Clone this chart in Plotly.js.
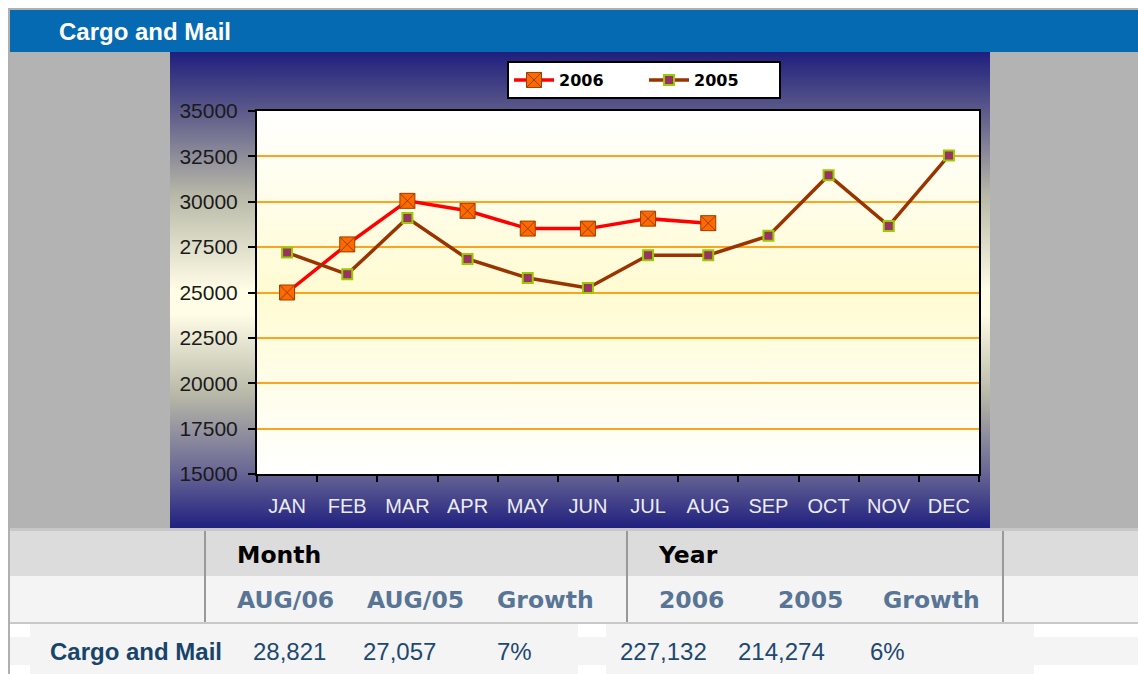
<!DOCTYPE html>
<html>
<head>
<meta charset="utf-8">
<script src="https://cdn.plot.ly/plotly-3.0.1.min.js"></script>
<style>
  html, body { margin: 0; padding: 0; background: #ffffff; width: 1138px; height: 674px; overflow: hidden; }
  .abs { position: absolute; }
  .hdr { font-family: "Liberation Sans", Arial, sans-serif; font-weight: bold; color: #ffffff; font-size: 24px; line-height: 42px; white-space: nowrap; }
  .th1 { font-family: "DejaVu Sans", Verdana, sans-serif; font-weight: bold; color: #000; font-size: 23.5px; line-height: 30px; white-space: nowrap; }
  .th2 { font-family: "DejaVu Sans", Verdana, sans-serif; font-weight: bold; color: #587595; font-size: 23.5px; line-height: 30px; white-space: nowrap; }
  .rowlab { font-family: "Liberation Sans", Arial, sans-serif; font-weight: bold; color: #18446c; font-size: 24px; line-height: 30px; white-space: nowrap; }
  .val { font-family: "Liberation Sans", Arial, sans-serif; color: #1d4870; font-size: 24px; line-height: 30px; white-space: nowrap; }
</style>
</head>
<body>
<!-- frame and background blocks -->
<div class="abs" style="left:8px;top:8px;width:1130px;height:2px;background:#b0b0b0;"></div>
<div class="abs" style="left:8px;top:8px;width:2px;height:666px;background:#b0b0b0;"></div>
<div class="abs" style="left:10px;top:10px;width:1128px;height:42px;background:#066ab3;"></div>
<div id="title" class="abs hdr" style="left:59px;top:11px;"></div>
<div class="abs" style="left:10px;top:52px;width:1128px;height:476px;background:#b3b3b3;"></div>
<div class="abs" style="left:170px;top:52px;width:820px;height:476px;background:linear-gradient(to bottom,#1f1f7e 0%,#5a5889 12%,#b8b8a8 30%,#fffde6 50%,#fffde6 55%,#b8b8a8 72%,#6a6895 88%,#20207f 100%);"></div>
<div class="abs" style="left:257px;top:111px;width:722px;height:363px;background:linear-gradient(to bottom,#ffffff 0%,#fffbd2 50%,#ffffff 100%);"></div>
<div id="chart" class="abs" style="left:170px;top:52px;width:820px;height:476px;"></div>

<!-- table -->
<div class="abs" style="left:10px;top:528px;width:1128px;height:3px;background:#c8c8c8;"></div>
<div class="abs" style="left:10px;top:531px;width:1128px;height:45px;background:#dcdcdc;"></div>
<div class="abs" style="left:10px;top:576px;width:1128px;height:46px;background:#f4f4f4;"></div>
<div class="abs" style="left:10px;top:622px;width:1128px;height:2px;background:#c8c8c8;"></div>
<div class="abs" style="left:10px;top:637px;width:1128px;height:28px;background:#f4f4f4;"></div>
<div class="abs" style="left:30px;top:624px;width:548px;height:50px;background:#f4f4f4;"></div>
<div class="abs" style="left:606px;top:624px;width:428px;height:50px;background:#f4f4f4;"></div>
<div class="abs" style="left:204px;top:531px;width:2px;height:91px;background:#999999;"></div>
<div class="abs" style="left:626px;top:531px;width:2px;height:91px;background:#999999;"></div>
<div class="abs" style="left:1002px;top:531px;width:2px;height:91px;background:#999999;"></div>
<div id="tbl"></div>

<script>
// ---- chart data ----
const chartTitle = "Cargo and Mail";
const months = ["JAN","FEB","MAR","APR","MAY","JUN","JUL","AUG","SEP","OCT","NOV","DEC"];
const series2006Name = "2006";
const series2005Name = "2005";
const values2006 = [25000, 27650, 30050, 29500, 28521, 28520, 29070, 28821];
const values2005 = [27200, 26000, 29100, 26850, 25800, 25250, 27050, 27057, 28120, 31460, 28670, 32550];
const yTickValues = [15000, 17500, 20000, 22500, 25000, 27500, 30000, 32500, 35000];

// ---- table data ----
const groupHeaders = ["Month", "Year"];
const columnHeaders = ["AUG/06", "AUG/05", "Growth", "2006", "2005", "Growth"];
const rowLabel = "Cargo and Mail";
const rowValues = ["28,821", "27,057", "7%", "227,132", "214,274", "6%"];

// ---- build header/table text ----
document.getElementById("title").textContent = chartTitle;
const tbl = document.getElementById("tbl");
const groupLeft = [237, 659];
const colLeft = [237, 367, 497, 659, 778, 883];
const valLeft = [253, 363, 497, 620, 738, 870];
function addText(cls, txt, left, centerY) {
  const d = document.createElement("div");
  d.className = "abs " + cls;
  d.style.left = left + "px";
  d.style.top = (centerY - 15) + "px";
  d.textContent = txt;
  tbl.appendChild(d);
}
groupHeaders.forEach((t, i) => addText("th1", t, groupLeft[i], 555));
columnHeaders.forEach((t, i) => addText("th2", t, colLeft[i], 600));
addText("rowlab", rowLabel, 50, 652);
rowValues.forEach((t, i) => addText("val", t, valLeft[i], 652));

// ---- plotly chart ----
const traces = [
  {
    x: months.slice(0, values2006.length),
    y: values2006,
    name: series2006Name,
    type: "scatter",
    mode: "lines+markers",
    line: { color: "#ff0000", width: 3.5 },
    marker: { symbol: "square-x", size: 15, color: "#ff6a00", line: { color: "#9a3d00", width: 1 } }
  },
  {
    x: months,
    y: values2005,
    name: series2005Name,
    type: "scatter",
    mode: "lines+markers",
    line: { color: "#993300", width: 3.5 },
    marker: { symbol: "square", size: 10, color: "#993366", line: { color: "#99cc00", width: 2 } }
  }
];

const layout = {
  width: 820,
  height: 476,
  margin: { l: 87, r: 11, t: 59, b: 54, pad: 0, autoexpand: false },
  paper_bgcolor: "rgba(0,0,0,0)",
  plot_bgcolor: "rgba(0,0,0,0)",
  showlegend: true,
  legend: {
    orientation: "h",
    xref: "container", yref: "container",
    x: 0.411, xanchor: "left",
    y: 0.981, yanchor: "top",
    bgcolor: "#ffffff",
    bordercolor: "#000000",
    borderwidth: 2,
    entrywidth: 80,
    itemwidth: 40,
    font: { family: "DejaVu Sans, Verdana, sans-serif", size: 16, color: "#000000", weight: "bold" }
  },
  xaxis: {
    type: "category",
    categoryorder: "array",
    categoryarray: months,
    range: [-0.5, 11.5],
    tickson: "boundaries",
    ticks: "outside",
    ticklen: 6,
    tickwidth: 2,
    tickcolor: "#000000",
    showline: true,
    linecolor: "#000000",
    linewidth: 2,
    mirror: true,
    showgrid: false,
    zeroline: false,
    tickfont: { family: "Liberation Sans, Arial, sans-serif", size: 20, color: "#ececf4" },
    ticklabelstandoff: 13,
    automargin: false,
    fixedrange: true
  },
  yaxis: {
    range: [15000, 35000],
    tickmode: "array",
    tickvals: yTickValues,
    ticktext: yTickValues.map(String),
    ticks: "outside",
    ticklen: 7,
    tickwidth: 2,
    tickcolor: "#000000",
    showline: true,
    linecolor: "#000000",
    linewidth: 2,
    mirror: true,
    showgrid: true,
    gridcolor: "#fba51e",
    gridwidth: 2,
    zeroline: false,
    tickfont: { family: "Liberation Sans, Arial, sans-serif", size: 21, color: "#1a1a1a" },
    ticklabelstandoff: 6,
    automargin: false,
    fixedrange: true
  }
};

Plotly.newPlot("chart", traces, layout, { displayModeBar: false, staticPlot: true });
</script>
</body>
</html>
